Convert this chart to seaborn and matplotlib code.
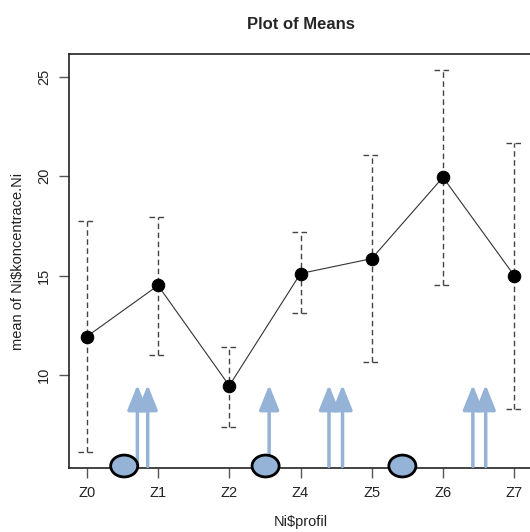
import matplotlib
matplotlib.use("Agg")
import matplotlib.pyplot as plt
import seaborn as sns
import pandas as pd
from matplotlib.patches import Ellipse

categories = ["Z0", "Z1", "Z2", "Z4", "Z5", "Z6", "Z7"]
means = [11.93, 14.5, 9.46, 15.1, 15.85, 19.94, 15.0]
lower = [6.13, 11.0, 7.37, 13.1, 10.65, 14.5, 8.29]
upper = [17.75, 17.95, 11.4, 17.2, 21.05, 25.32, 21.64]

arrow_x = [0.71, 0.855, 2.56, 3.40, 3.59, 5.42, 5.60]
arrow_top = 9.5
arrow_bottom = 5.4
ellipse_x = [0.525, 2.51, 4.43]
ellipse_y = 5.42

sns.set_style("white")
plt.rcParams['font.family'] = ['Liberation Sans', 'DejaVu Sans']

df = pd.DataFrame({"pos": range(len(categories)), "mean": means})

fig = plt.figure(figsize=(5.30, 5.32), dpi=100)
ax = fig.add_axes([69/530, 1 - 468/532, 463/530, (468-54)/532])

grey = "#444444"
ax.vlines(df["pos"], lower, upper, colors=grey, linestyles=(0, (4, 2.5)), linewidth=1.0, zorder=1)
ax.hlines(lower, df["pos"] - 0.12, df["pos"] + 0.12, colors=grey, linestyles=(0, (4, 2.5)), linewidth=1.0, zorder=1)
ax.hlines(upper, df["pos"] - 0.12, df["pos"] + 0.12, colors=grey, linestyles=(0, (4, 2.5)), linewidth=1.0, zorder=1)

sns.lineplot(data=df, x="pos", y="mean", ax=ax, color="#333333", linewidth=0.8,
             marker="o", markersize=9, markerfacecolor="black", markeredgecolor="black", zorder=3)

blue = "#95B3D7"
for x in arrow_x:
    ax.annotate("", xy=(x, arrow_top), xytext=(x, arrow_bottom),
                arrowprops=dict(arrowstyle="-|>,head_width=0.38,head_length=0.95",
                                color=blue, lw=2.5, mutation_scale=16, shrinkA=0, shrinkB=0),
                zorder=4)
for x in ellipse_x:
    ax.add_patch(Ellipse((x, ellipse_y), 0.38, 1.1, facecolor=blue, edgecolor="black",
                         linewidth=2, clip_on=False, zorder=5))

ax.set_xlim(-0.25, 6.25)
ax.set_ylim(5.32, 26.14)
ax.set_xticks(range(len(categories)))
ax.set_xticklabels(categories)
ax.set_yticks([10, 15, 20, 25])
ax.set_yticklabels(["10", "15", "20", "25"], rotation=90, va="center")
ax.tick_params(axis="both", direction="out", length=7, width=1, color="#555555",
               labelsize=10.5, pad=6, labelcolor="#222222", left=True, bottom=True)
for s in ax.spines.values():
    s.set_color("#222222")
    s.set_linewidth(1.2)
ax.spines["right"].set_visible(False)

ax.set_xlabel("Ni$profil", fontsize=10.5, color="#222222")
ax.xaxis.set_label_coords(0.5, -(515 - 468) / 414, transform=ax.transAxes)
ax.set_ylabel("mean of Ni$koncentrace.Ni", fontsize=10.5, color="#222222")
ax.yaxis.set_label_coords(-(69 - 25) / 463, 0.5, transform=ax.transAxes)
ax.set_title("Plot of Means", fontsize=12, fontweight="bold", pad=18)

fig.savefig("out.png", dpi=100)
